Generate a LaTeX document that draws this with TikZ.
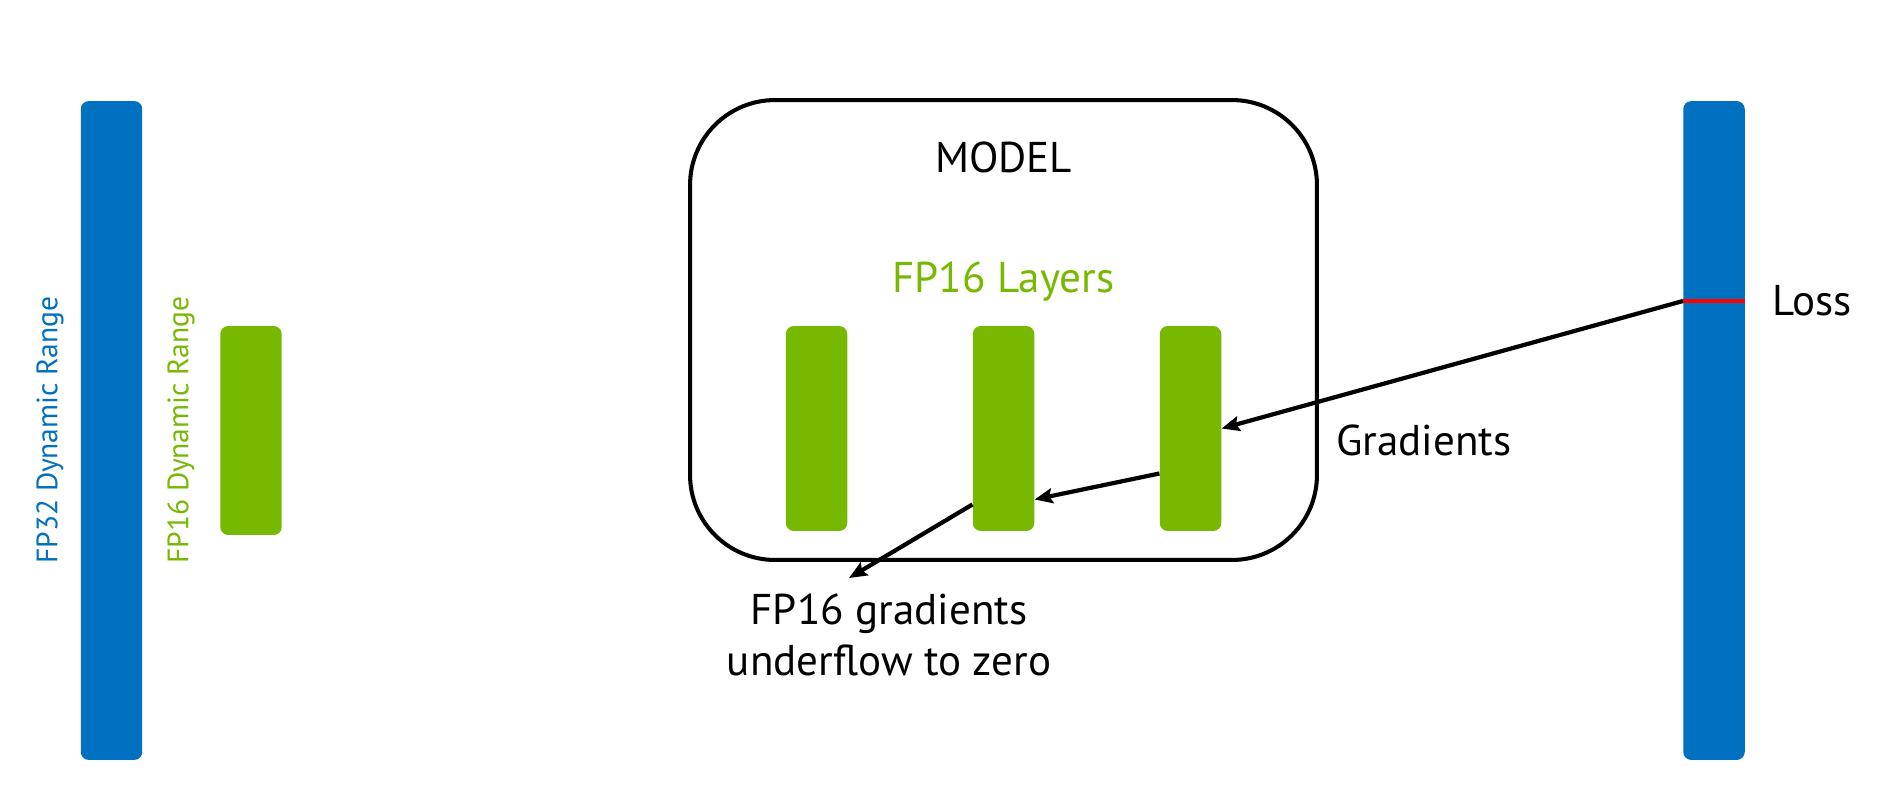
\documentclass[tikz,border=0pt]{standalone}
\usepackage{fontspec}
\setmainfont{PT Sans}
\usepackage{xcolor}
\definecolor{fpblue}{HTML}{0070C0}
\definecolor{fpgreen}{HTML}{76B900}
\definecolor{lossred}{HTML}{FF0000}
\usepackage{tikz}
\usetikzlibrary{arrows.meta,positioning,calc}

\begin{document}
\begin{tikzpicture}[x=0.02cm, y=-0.02cm,
    bar/.style={rectangle, rounded corners=0.16cm, inner sep=0pt, minimum width=1.23cm},
    rangebar/.style={bar, fill=fpblue, minimum height=13.18cm},
    layer/.style={bar, fill=fpgreen, minimum height=4.1cm},
    model/.style={rectangle, draw=black, line width=2.3pt, rounded corners=1.7cm, minimum width=12.54cm, minimum height=9.2cm},
    label/.style={inner sep=0pt, font=\fontsize{24.5}{29}\selectfont, align=center},
    rangelabel/.style={inner sep=0pt, rotate=90, font=\fontsize{16.8}{20}\selectfont},
    grad/.style={line width=2.4pt, -{Stealth[length=0.36cm, width=0.3cm, inset=0.06cm]}}
  ]
    \useasboundingbox (0,0) rectangle (1888,801);

    % dynamic ranges
    \node[rangebar] (fp32) at (111.5,430.5) {};
    \node[rangebar] (full) at (1714,430.5) {};
    \node[layer, minimum height=4.18cm] (fp16) at (251,430.5) {};
    \node[rangelabel, text=fpblue] at (50,430) {FP32 Dynamic Range};
    \node[rangelabel, text=fpgreen] at (181,430) {FP16 Dynamic Range};

    % model with its layers
    \node[model] (mdl) at (1003.5,330) {};
    \node[label] at (1003.5,157) {MODEL};
    \node[label, text=fpgreen] at (1003.5,282) {FP16 Layers};
    \foreach \x/\name in {816.5/l1, 1003.5/l2, 1190.5/l3}
      \node[layer] (\name) at (\x,428.5) {};

    % loss
    \coordinate (lossw) at (1683,301);
    \coordinate (losse) at (1745,301);
    \draw[lossred, line width=1.8pt] (lossw) -- (losse);
    \node[label, anchor=west] (loss) at ($(losse)+(27,0)$) {Loss};

    % gradients flowing back
    \node[label, anchor=west] (gr) at (1336,440) {Gradients};
    \node[label] (under) at (889,634.5) {FP16 gradients\\underflow to zero};
    \coordinate (zero) at (849,578);
    \draw[grad] (lossw) -- (l3.east);
    \draw[grad] ([yshift=-0.9cm]l3.west) -- ([yshift=-1.42cm]l2.east);
    \draw[grad] ([yshift=-1.52cm]l2.west) -- (zero);
  \end{tikzpicture}
\end{document}
